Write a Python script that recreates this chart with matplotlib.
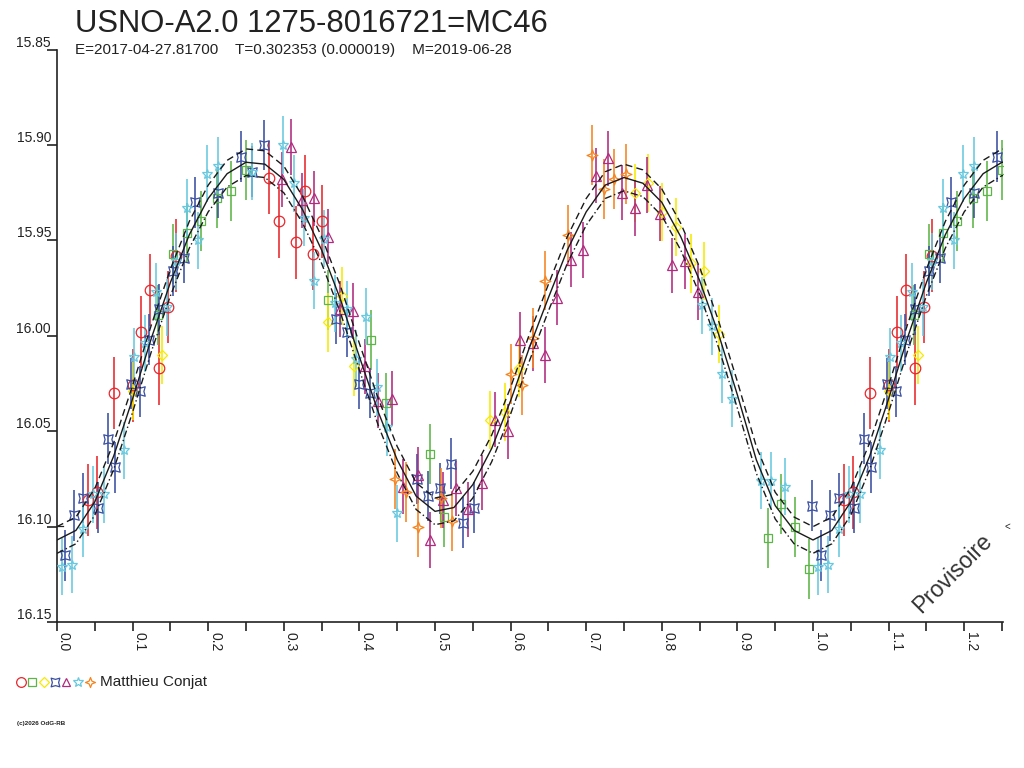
import numpy as np
import matplotlib
matplotlib.use("Agg")
import matplotlib.pyplot as plt
from matplotlib.path import Path

plt.rcParams['font.family'] = ['Liberation Sans', 'DejaVu Sans']

title = "USNO-A2.0 1275-8016721=MC46"
subtitle = "E=2017-04-27.81700    T=0.302353 (0.000019)    M=2019-06-28"
observer = "Matthieu Conjat"
copyright_txt = "(c)2026 OdG-RB"
watermark = "Provisoire"

y_ticks = [15.85, 15.90, 15.95, 16.00, 16.05, 16.10, 16.15]
x_ticks = [0.0, 0.1, 0.2, 0.3, 0.4, 0.5, 0.6, 0.7, 0.8, 0.9, 1.0, 1.1, 1.2]
x_minor = [0.05, 0.15, 0.25, 0.35, 0.45, 0.55, 0.65, 0.75, 0.85, 0.95, 1.05, 1.15, 1.25]

red_phase = [0.041, 0.053, 0.076, 0.100, 0.111, 0.123, 0.135, 0.147, 0.158, 0.280, 0.293, 0.316, 0.328, 0.339, 0.351]
red_mag = [16.086, 16.082, 16.030, 16.026, 15.998, 15.976, 16.017, 15.985, 15.958, 15.917, 15.940, 15.951, 15.924, 15.957, 15.940]
red_err = 0.019

green_phase = [0.134, 0.154, 0.172, 0.191, 0.211, 0.230, 0.250, 0.358, 0.415, 0.435, 0.493, 0.512, 0.940, 0.957, 0.976, 0.995]
green_mag = [15.989, 15.957, 15.946, 15.940, 15.928, 15.924, 15.913, 15.981, 16.002, 16.035, 16.062, 16.095, 16.106, 16.088, 16.100, 16.122]
green_err = 0.0157

yellow_phase = [0.101, 0.139, 0.358, 0.377, 0.393, 0.573, 0.592, 0.611, 0.764, 0.782, 0.800, 0.819, 0.838, 0.856, 0.875]
yellow_mag = [16.029, 16.010, 15.993, 15.979, 16.016, 16.044, 16.040, 16.017, 15.925, 15.920, 15.935, 15.943, 15.962, 15.966, 15.999]
yellow_err = 0.0153

blue_phase = [0.011, 0.023, 0.035, 0.054, 0.067, 0.077, 0.098, 0.110, 0.122, 0.135, 0.153, 0.168, 0.183, 0.213,
              0.244, 0.258, 0.274, 0.369, 0.383, 0.399, 0.414, 0.476, 0.491, 0.506, 0.521, 0.537, 0.552, 0.999]
blue_mag = [16.115, 16.094, 16.085, 16.090, 16.054, 16.069, 16.025, 16.029, 16.002, 15.986, 15.966, 15.959, 15.930, 15.925,
            15.906, 15.914, 15.900, 15.991, 15.998, 16.025, 16.030, 16.075, 16.084, 16.080, 16.067, 16.098, 16.090, 16.089]
blue_err = 0.0133

magenta_phase = [0.297, 0.310, 0.324, 0.340, 0.358, 0.374, 0.391, 0.407, 0.425, 0.443, 0.458, 0.477, 0.494, 0.511,
                 0.528, 0.544, 0.562, 0.579, 0.596, 0.612, 0.629, 0.646, 0.662, 0.680, 0.696, 0.713, 0.729, 0.747,
                 0.764, 0.781, 0.797, 0.814, 0.831, 0.848]
magenta_mag = [15.918, 15.901, 15.929, 15.928, 15.948, 15.986, 15.987, 16.016, 16.034, 16.033, 16.079, 16.073, 16.107, 16.086,
               16.080, 16.091, 16.077, 16.044, 16.050, 16.002, 16.004, 16.010, 15.980, 15.960, 15.955, 15.916, 15.907, 15.925,
               15.933, 15.921, 15.936, 15.963, 15.961, 15.977]
magenta_err = 0.0145

cyan_phase = [0.006, 0.020, 0.034, 0.048, 0.062, 0.089, 0.102, 0.116, 0.131, 0.146, 0.158, 0.172, 0.186, 0.199, 0.213,
              0.258, 0.299, 0.313, 0.327, 0.340, 0.353, 0.368, 0.383, 0.396, 0.409, 0.423, 0.437, 0.450,
              0.853, 0.867, 0.879, 0.893, 0.931, 0.944, 0.963]
cyan_mag = [16.121, 16.120, 16.101, 16.083, 16.083, 16.060, 16.011, 16.004, 15.977, 15.985, 15.961, 15.933, 15.950, 15.915, 15.911,
            15.914, 15.900, 15.920, 15.938, 15.971, 15.949, 15.983, 15.986, 16.012, 15.990, 16.027, 16.048, 16.093,
            15.984, 15.995, 16.020, 16.033, 16.076, 16.076, 16.079]
cyan_err = 0.015

orange_phase = [0.447, 0.462, 0.478, 0.508, 0.523, 0.600, 0.615, 0.630, 0.646, 0.676, 0.707, 0.723, 0.737, 0.753]
orange_mag = [16.075, 16.082, 16.100, 16.085, 16.097, 16.020, 16.026, 16.001, 15.971, 15.947, 15.905, 15.923, 15.918, 15.915]
orange_err = 0.0157

# fitted light curve, read every 0.025 in phase
fit_phase = [round(0.025 * k, 3) for k in range(41)]
fit_mag = [16.107, 16.102, 16.087, 16.063, 16.033, 16.001, 15.972, 15.947, 15.928, 15.915,
           15.909, 15.910, 15.918, 15.934, 15.955, 15.981, 16.011, 16.040, 16.065, 16.084,
           16.092, 16.090, 16.078, 16.059, 16.034, 16.006, 15.980, 15.955, 15.935, 15.921,
           15.917, 15.920, 15.930, 15.948, 15.971, 15.999, 16.031, 16.065, 16.089, 16.102,
           16.107]
fit_band = 0.007
ref_mag = 16.0997

XMAX = 1.2517

# marker shapes
star4 = Path([(0, 1), (0.28, 0.28), (1, 0), (0.28, -0.28), (0, -1), (-0.28, -0.28), (-1, 0), (-0.28, 0.28), (0, 1)],
             [Path.MOVETO] + [Path.LINETO] * 7 + [Path.CLOSEPOLY])
hourglass = Path([(1, 1), (0, 0.72), (-1, 1), (-0.72, 0), (-1, -1), (0, -0.72), (1, -1), (0.72, 0), (1, 1)],
                 [Path.MOVETO] + [Path.LINETO] * 7 + [Path.CLOSEPOLY])

series = [
    (red_phase, red_mag, red_err, '#E8262C', 'o', 7.6),
    (green_phase, green_mag, green_err, '#5CB547', 's', 6.2),
    (yellow_phase, yellow_mag, yellow_err, '#F6EA00', 'D', 5.4),
    (blue_phase, blue_mag, blue_err, '#3A4FA2', hourglass, 6.8),
    (magenta_phase, magenta_mag, magenta_err, '#B02A7E', '^', 7.0),
    (cyan_phase, cyan_mag, cyan_err, '#67C8DF', '*', 7.6),
    (orange_phase, orange_mag, orange_err, '#F5841F', star4, 7.8),
]

fig = plt.figure(figsize=(10.24, 7.68), dpi=100)
ax = fig.add_axes([57 / 1024, 1 - 622 / 768, (1003.3 - 57) / 1024, (622 - 49.7) / 768])
ax.patch.set_alpha(0)

def extend(ph, mg):
    ph = list(ph); mg = list(mg)
    xs = ph + [p + 1 for p in ph if p + 1 <= XMAX + 0.002]
    ys = mg + [m for p, m in zip(ph, mg) if p + 1 <= XMAX + 0.002]
    return np.array(xs), np.array(ys)

for ph, mg, er, col, mk, ms in series:
    xs, ys = extend(ph, mg)
    ax.errorbar(xs, ys, yerr=er, fmt='none', ecolor=col, elinewidth=1.15, capsize=0, zorder=2)
    ax.plot(xs, ys, linestyle='none', marker=mk, markersize=ms, mfc='none', mec=col, mew=0.9, zorder=3)

# fit curve and its band
fx = list(fit_phase) + [p + 1 for p in fit_phase[1:] if p + 1 <= 1.3]
fy = list(fit_mag) + [m for p, m in zip(fit_phase[1:], fit_mag[1:]) if p + 1 <= 1.3]
fx = np.array(fx); fy = np.array(fy)
ax.plot(fx, fy, color='#1a1a1a', lw=1.0, zorder=4)
ax.plot(fx, fy - fit_band, color='#1a1a1a', lw=1.0, ls=(0, (5, 3)), zorder=4)
ax.plot(fx, fy + fit_band, color='#1a1a1a', lw=1.0, ls=(0, (5, 2, 1, 2)), zorder=4)

# reference level marks
ax.plot([0, 0.008], [ref_mag, ref_mag], color='#222222', lw=0.9, zorder=4, clip_on=False)

ax.set_xlim(0, XMAX)
ax.set_ylim(16.15, 15.85)
for s in ['top', 'right']:
    ax.spines[s].set_visible(False)
for s in ['left', 'bottom']:
    ax.spines[s].set_linewidth(1.2)
    ax.spines[s].set_color('#222222')

ax.set_yticks(y_ticks)
ax.set_yticklabels(['%.2f' % v for v in y_ticks], fontsize=10, color='#222222')
for t in ax.get_yticklabels():
    t.set_verticalalignment('bottom')
ax.tick_params(axis='y', length=7.5, width=1.2, pad=-3.2, color='#222222')

ax.set_xticks(x_ticks)
ax.set_xticks(x_minor, minor=True)
ax.set_xticklabels(['%.1f' % v for v in x_ticks], fontsize=10, color='#222222', rotation=-90, ha='left', va='top')
ax.tick_params(axis='x', which='both', length=6.5, width=1.2, pad=1, color='#222222')

# overlay in pixel coordinates for the page furniture
ov = fig.add_axes([0, 0, 1, 1], zorder=5)
ov.set_xlim(0, 1024)
ov.set_ylim(768, 0)
ov.axis('off')
ov.patch.set_alpha(0)

fig.text(75 / 1024, 1 - 32 / 768, title, fontsize=22.3, color='#222222', va='baseline')
fig.text(75 / 1024, 1 - 54 / 768, subtitle, fontsize=11, color='#222222', va='baseline')

ov.text(953, 573, watermark, rotation=45, ha='center', va='center', fontsize=16.5, color='#333333')
ov.text(1007, 527, '<', ha='center', va='center', fontsize=7, color='#222222')

leg_x = [20.7, 32.3, 43.5, 55.3, 66.3, 78.3, 89.5]
for (ph, mg, er, col, mk, ms), lx in zip(series, leg_x):
    ov.plot([lx], [682], linestyle='none', marker=mk, markersize=ms * 0.92, mfc='none', mec=col, mew=0.9)
ov.text(100, 682, observer, fontsize=11, color='#222222', va='center', ha='left')
ov.text(17, 724, copyright_txt, fontsize=4.5, fontweight='bold', color='#222222', va='center', ha='left')

fig.savefig('out.png', dpi=100)
